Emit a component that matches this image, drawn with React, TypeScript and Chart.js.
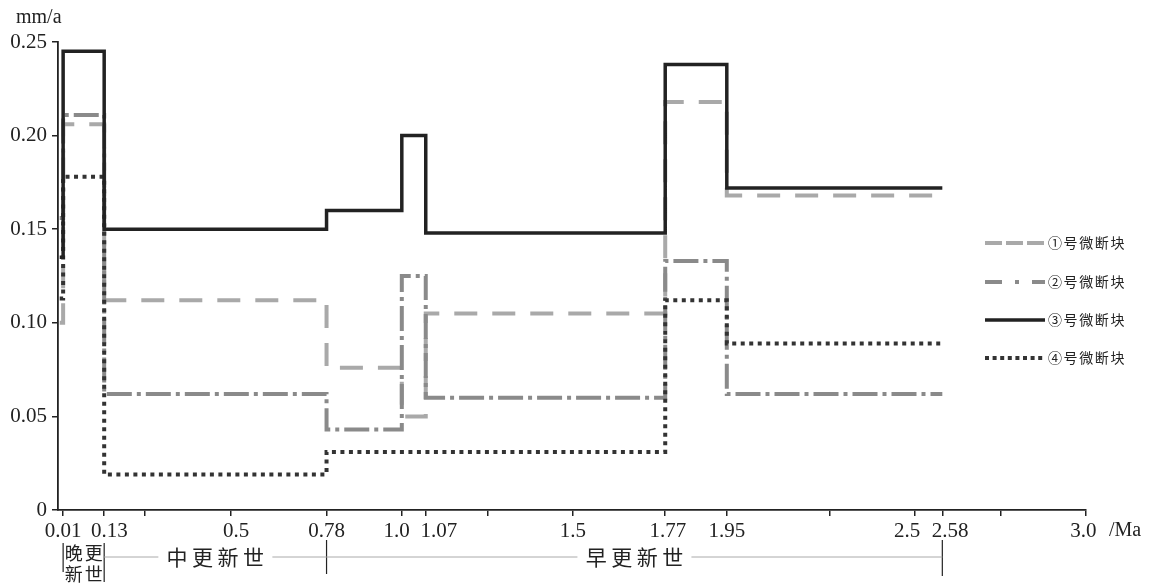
import React, { useEffect, useRef } from 'react';
import { Chart, registerables } from 'chart.js';

Chart.register(...registerables);

// Segment boundaries (Ma) — each series holds one value per segment
const boundaries = [0, 0.01, 0.13, 0.78, 1.0, 1.07, 1.77, 1.95, 2.58];
const block1 = [0.1, 0.206, 0.112, 0.076, 0.05, 0.105, 0.218, 0.168];
const block2 = [0.156, 0.211, 0.062, 0.043, 0.125, 0.06, 0.133, 0.062];
const block3 = [0.135, 0.245, 0.15, 0.16, 0.2, 0.148, 0.238, 0.172];
const block4 = [0.113, 0.178, 0.019, 0.031, 0.031, 0.031, 0.112, 0.089];
const seriesNames = ['①号微断块', '②号微断块', '③号微断块', '④号微断块'];

const xTickValues = [0.01, 0.13, 0.25, 0.5, 0.78, 1.0, 1.07, 1.25, 1.5, 1.77, 1.95, 2.25, 2.5, 2.58, 2.75, 3.0];
const xTickLabels = ['0.01', '  0.13', '', '  0.5', '0.78', '1.0  ', '     1.07', '', '1.5', ' 1.77', '1.95', '', '2.5   ', '   2.58', '', '3.0 '];
const yTickValues = [0, 0.05, 0.1, 0.15, 0.2, 0.25];
const yTickLabels = ['0', '0.05', '0.10', '0.15', '0.20', '0.25'];

const epochNames = ['晚更新世', '中更新世', '早更新世'];
const epochBounds = [0.01, 0.13, 0.78, 2.58];

const serif = '"Liberation Serif", "DejaVu Serif", serif';
const cjk = '"Noto Sans CJK SC", "Noto Sans", sans-serif';

const styles = [
  { color: '#a9a9a9', width: 4, dash: [23, 15], legendDash: [17, 4] },
  { color: '#8a8a8a', width: 4, dash: [25, 5, 4, 5], legendDash: [17, 13, 4, 13] },
  { color: '#222222', width: 3.5, dash: [] as number[], legendDash: [] as number[] },
  { color: '#333333', width: 4, dash: [4, 4.5], legendDash: [4, 3.6] },
];

function toPoints(vals: number[]) {
  return boundaries.map((b, i) => ({ x: b, y: vals[Math.min(i, vals.length - 1)] }));
}

const extrasPlugin = {
  id: 'extras',
  afterDraw(chart: any) {
    const ctx = chart.ctx as CanvasRenderingContext2D;
    const xs = chart.scales.x;
    ctx.save();
    // axis unit labels
    ctx.fillStyle = '#222';
    ctx.font = `20px ${serif}`;
    ctx.textAlign = 'left';
    ctx.textBaseline = 'middle';
    ctx.fillText('mm/a', 16, 18);
    ctx.fillText('/Ma', 1109, 531);

    // legend
    const legendY = [243, 282, 320, 358];
    seriesNames.forEach((name, i) => {
      const st = styles[i];
      ctx.beginPath();
      ctx.setLineDash(st.legendDash);
      ctx.lineWidth = st.width;
      ctx.strokeStyle = st.color;
      ctx.lineCap = 'butt';
      ctx.moveTo(985, legendY[i]);
      ctx.lineTo(1045, legendY[i]);
      ctx.stroke();
      ctx.setLineDash([]);
      ctx.fillStyle = '#222';
      ctx.font = `14px ${cjk}`;
      ctx.textAlign = 'left';
      ctx.textBaseline = 'middle';
      const chars = Array.from(name);
      let cx = 1048;
      chars.forEach((c) => {
        ctx.fillText(c, cx, legendY[i]);
        cx += 15.6;
      });
    });

    // epoch annotations
    const px = epochBounds.map((b) => xs.getPixelForValue(b));
    ctx.strokeStyle = '#222';
    ctx.lineWidth = 1.2;
    const vSpans = [
      [543, 572],
      [543, 582],
      [540, 574],
      [540, 576],
    ];
    px.forEach((p, i) => {
      ctx.beginPath();
      ctx.moveTo(p, vSpans[i][0]);
      ctx.lineTo(p, vSpans[i][1]);
      ctx.stroke();
    });
    const lineY = 557;
    ctx.fillStyle = '#222';
    ctx.textBaseline = 'middle';
    ctx.textAlign = 'center';
    // first epoch in two rows
    const e0 = Array.from(epochNames[0]);
    ctx.font = `18px ${cjk}`;
    const c0 = (px[0] + px[1]) / 2;
    ctx.fillText(e0[0], c0 - 10, 553);
    ctx.fillText(e0[1], c0 + 10, 553);
    ctx.fillText(e0[2], c0 - 10, 574);
    ctx.fillText(e0[3], c0 + 10, 574);
    // other epochs with horizontal rules
    ctx.font = `21px ${cjk}`;
    const step = 25.5;
    for (let k = 1; k < 3; k++) {
      const a = px[k];
      const b = px[k + 1];
      const mid = (a + b) / 2;
      const chars = Array.from(epochNames[k]);
      const half = (chars.length * step) / 2;
      ctx.beginPath();
      ctx.strokeStyle = '#aaaaaa';
      ctx.lineWidth = 1;
      ctx.moveTo(a, lineY);
      ctx.lineTo(mid - half - 6, lineY);
      ctx.moveTo(mid + half + 6, lineY);
      ctx.lineTo(b, lineY);
      ctx.stroke();
      chars.forEach((c, j) => {
        ctx.fillText(c, mid - half + step * (j + 0.5), lineY);
      });
    }
    ctx.restore();
  },
};

export default function App() {
  const ref = useRef<HTMLCanvasElement | null>(null);
  useEffect(() => {
    if (!ref.current) return;
    const series = [block1, block2, block3, block4];
    const datasets = series.map((vals, i) => ({
      label: seriesNames[i],
      data: toPoints(vals),
      borderColor: styles[i].color,
      backgroundColor: styles[i].color,
      borderWidth: styles[i].width,
      borderDash: styles[i].dash,
      borderCapStyle: 'butt' as const,
      borderJoinStyle: 'miter' as const,
      stepped: true,
      pointRadius: 0,
      fill: false,
      order: [4, 3, 1, 2][i],
    }));
    const chart = new Chart(ref.current, {
      type: 'line',
      data: { datasets },
      plugins: [extrasPlugin],
      options: {
        animation: false,
        responsive: true,
        maintainAspectRatio: false,
        layout: { padding: { top: 42, right: 65, left: 0, bottom: 0 } },
        plugins: { legend: { display: false }, tooltip: { enabled: false } },
        scales: {
          x: {
            type: 'linear',
            min: -0.005,
            max: 3.0,
            afterFit: (s: any) => {
              s.height = 76;
            },
            afterBuildTicks: (s: any) => {
              s.ticks = xTickValues.map((v) => ({ value: v }));
            },
            ticks: {
              autoSkip: false,
              maxRotation: 0,
              minRotation: 0,
              padding: 3,
              color: '#222',
              font: { family: serif, size: 21 },
              callback: (v: any) => {
                const idx = xTickValues.findIndex((t) => Math.abs(t - Number(v)) < 1e-9);
                return idx >= 0 ? xTickLabels[idx] : '';
              },
            },
            grid: { display: true, drawOnChartArea: false, drawTicks: true, tickLength: 6, color: '#222', lineWidth: 1.5 },
            border: { display: true, color: '#222', width: 1.8 },
          },
          y: {
            type: 'linear',
            min: 0,
            max: 0.25,
            afterFit: (s: any) => {
              s.width = 58;
            },
            afterBuildTicks: (s: any) => {
              s.ticks = yTickValues.map((v) => ({ value: v }));
            },
            ticks: {
              padding: 5,
              color: '#222',
              font: { family: serif, size: 21 },
              callback: (v: any) => {
                const idx = yTickValues.findIndex((t) => Math.abs(t - Number(v)) < 1e-9);
                return idx >= 0 ? yTickLabels[idx] : '';
              },
            },
            grid: { display: true, drawOnChartArea: false, drawTicks: true, tickLength: 6, color: '#222', lineWidth: 1.5 },
            border: { display: true, color: '#222', width: 1.8 },
          },
        },
      },
    });
    return () => chart.destroy();
  }, []);
  return (
    <div style={{ position: 'fixed', left: 0, top: 0, width: 1151, height: 586, background: '#fff' }}>
      <canvas ref={ref} />
    </div>
  );
}
